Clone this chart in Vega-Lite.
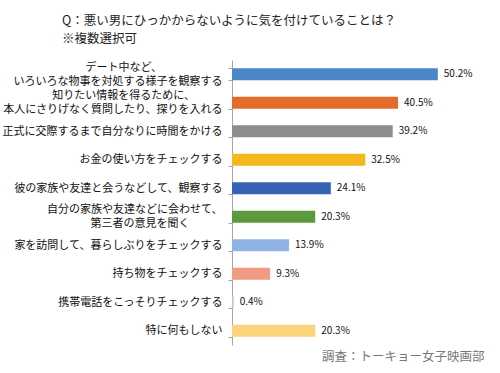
{
  "$schema": "https://vega.github.io/schema/vega-lite/v6.json",
  "width": 246,
  "height": 285,
  "autosize": {"type": "none"},
  "padding": {"left": 232, "top": 60, "right": 22, "bottom": 28},
  "background": "white",
  "config": {
    "font": "Noto Sans CJK JP",
    "view": {"stroke": null}
  },
  "title": {
    "text": ["Q：悪い男にひっかからないように気を付けていることは？", "※複数選択可"],
    "anchor": "start",
    "frame": "group",
    "dx": -170,
    "offset": 9,
    "fontSize": 12.5,
    "fontWeight": "normal",
    "lineHeight": 18,
    "color": "#222222"
  },
  "data": {
    "values": [
      {"item": "デート中など、|いろいろな物事を対処する様子を観察する", "value": 0.502},
      {"item": "知りたい情報を得るために、|本人にさりげなく質問したり、探りを入れる", "value": 0.405},
      {"item": "正式に交際するまで自分なりに時間をかける", "value": 0.392},
      {"item": "お金の使い方をチェックする", "value": 0.325},
      {"item": "彼の家族や友達と会うなどして、観察する", "value": 0.241},
      {"item": "自分の家族や友達などに会わせて、|第三者の意見を聞く", "value": 0.203},
      {"item": "家を訪問して、暮らしぶりをチェックする", "value": 0.139},
      {"item": "持ち物をチェックする", "value": 0.093},
      {"item": "携帯電話をこっそりチェックする", "value": 0.004},
      {"item": "特に何もしない", "value": 0.203}
    ]
  },
  "encoding": {
    "y": {
      "field": "item",
      "type": "nominal",
      "sort": null,
      "scale": {"paddingInner": 0.58, "paddingOuter": 0.29},
      "axis": {
        "title": null,
        "labelExpr": "indexof(datum.label, '|') < 0 ? ['\u200d', datum.label, '\u200d'] : [pad(split(datum.label, '|')[0], floor((length(split(datum.label, '|')[0]) + length(split(datum.label, '|')[1])) / 2), '\u3000', 'right') + '\u200d', '\u200d', pad(split(datum.label, '|')[1], floor((length(split(datum.label, '|')[0]) + length(split(datum.label, '|')[1])) / 2), '\u3000', 'right') + '\u200d']",
        "labelFontSize": 11,
        "labelColor": "#111111",
        "labelLineHeight": 7,
        "labelOffset": -7,
        "labelLimit": 260,
        "labelPadding": 6,
        "tickBand": "extent",
        "tickSize": 4,
        "tickColor": "#a6a6a6",
        "domainColor": "#a6a6a6"
      }
    },
    "x": {
      "field": "value",
      "type": "quantitative",
      "scale": {"domain": [0, 0.6]},
      "axis": {
        "labels": false,
        "ticks": false,
        "domain": false,
        "grid": false,
        "title": "調査：トーキョー女子映画部",
        "titleAnchor": "end",
        "titleFontSize": 12.5,
        "titleFontWeight": "normal",
        "titleColor": "#777777",
        "titlePadding": 5,
        "titleX": 252
      }
    }
  },
  "layer": [
    {
      "mark": {"type": "bar", "strokeWidth": 0.8, "strokeOpacity": 0.6},
      "encoding": {
        "color": {
          "field": "item",
          "type": "nominal",
          "sort": null,
          "legend": null,
          "scale": {
            "range": ["#4a87c9", "#e26d2b", "#8e8e8e", "#f4b81c", "#3562b6", "#5b9a3c", "#8eb3e3", "#f19b82", "#c4c4c4", "#fcd27c"]
          }
        }
      }
    },
    {
      "mark": {"type": "text", "align": "left", "dx": 6, "fontSize": 10, "color": "#111111"},
      "encoding": {
        "text": {"field": "value", "type": "quantitative", "format": ".1%"}
      }
    }
  ]
}
